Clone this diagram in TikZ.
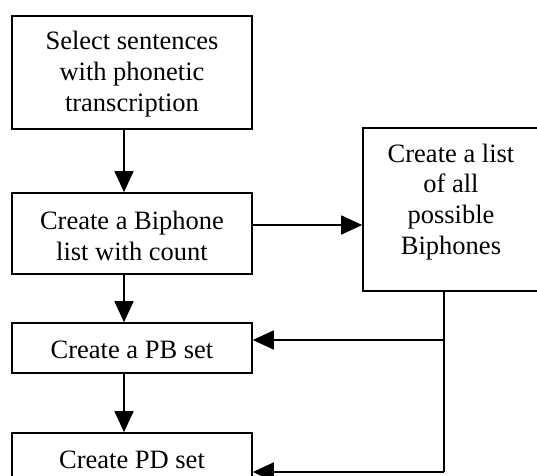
\documentclass[tikz,border=0pt]{standalone}
\usepackage{fontspec}
\setmainfont{Liberation Serif}
\usetikzlibrary{arrows.meta,calc}
\begin{document}
\begin{tikzpicture}[x=1pt,y=-1pt,
  box/.style={draw=black,line width=1.6pt,inner sep=0pt},
  txt/.style={align=center,inner sep=0pt,font=\fontsize{26.5}{30.8}\selectfont},
  arr/.style={line width=1.6pt,-{Triangle[length=21pt,width=19pt]}},
  link/.style={line width=1.6pt}]
\useasboundingbox (0,0) rectangle (537,475);
\clip (0,0) rectangle (537,475);
% process boxes (left column)
\node[box,minimum width=240pt,minimum height=113pt] (sel) at (132,72.5) {};
\node[txt] (selt) at (132,74) {Select sentences\\with phonetic\\transcription};
\node[box,minimum width=240pt,minimum height=81pt] (bip) at (132,233.5) {};
\node[txt] (bipt) at (132,236) {Create a Biphone\\list with count};
\node[box,minimum width=240pt,minimum height=50pt] (pb) at (132,348) {};
\node[txt] (pbt) at (132,350) {Create a PB set};
\node[box,minimum width=240pt,minimum height=50pt] (pd) at (132,458) {};
\node[txt] (pdt) at (132,460) {Create PD set};
% list of all biphones (right column)
\node[box,minimum width=176pt,minimum height=163pt] (all) at (451,209.5) {};
\node[txt] (allt) at (451,202) {Create a list\\of all\\possible\\Biphones};
% connectors
\coordinate (selb) at (124,129);
\draw[arr] (selb) -- (selb |- bip.north);
\coordinate (bipb) at (124,274);
\draw[arr] (bipb) -- (bipb |- pb.north);
\draw[arr] (bipb |- pb.south) -- (bipb |- pd.north);
\coordinate (bipr) at (252,225);
\draw[arr] (bipr) -- (bipr -| all.west);
\coordinate (allb) at (444,291);
\coordinate (jpb) at (444,340);
\coordinate (jpd) at (444,472);
\draw[link] (allb) -- (jpd);
\draw[arr] (jpb) -- (jpb -| pb.east);
\draw[arr] (jpd) -- (jpd -| pd.east);
\end{tikzpicture}
\end{document}
